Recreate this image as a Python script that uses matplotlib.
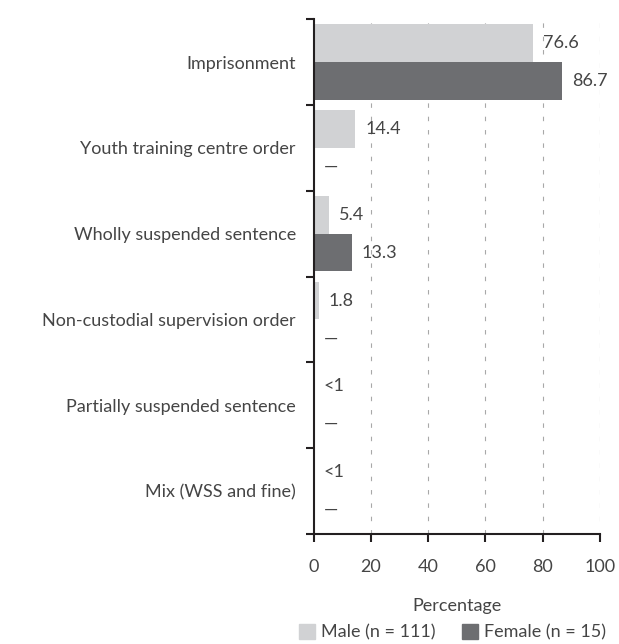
import matplotlib.pyplot as plt
import numpy as np
from matplotlib.patches import Patch

plt.rcParams['font.family'] = ['Lato', 'DejaVu Sans']

categories = ["Imprisonment", "Youth training centre order", "Wholly suspended sentence",
              "Non-custodial supervision order", "Partially suspended sentence", "Mix (WSS and fine)"]
male = [76.6, 14.4, 5.4, 1.8, 0, 0]
female = [86.7, 0, 13.3, 0, 0, 0]
male_labels = ["76.6", "14.4", "5.4", "1.8", "<1", "<1"]
female_labels = ["86.7", "\u2014", "13.3", "\u2014", "\u2014", "\u2014"]

light = "#d1d2d4"
dark = "#6d6e71"
txt = "#454545"
fs = 13

fig = plt.figure(figsize=(6.19, 6.44), dpi=100)
ax = fig.add_axes([0.507, 0.171, 0.462, 0.799])

y = np.arange(len(categories))
h = 0.44
ax.barh(y - h / 2, male, height=h, color=light, zorder=2)
ax.barh(y + h / 2, female, height=h, color=dark, zorder=2)

for i in range(len(categories)):
    ax.text(male[i] + 3.5, y[i] - h / 2, male_labels[i], va="center", ha="left", fontsize=fs, color=txt)
    ax.text(female[i] + 3.5, y[i] + h / 2, female_labels[i], va="center", ha="left", fontsize=fs, color=txt)

ax.set_xlim(0, 100)
ax.set_ylim(len(categories) - 0.5, -0.5)
ax.set_xticks([0, 20, 40, 60, 80, 100])
ax.set_yticks(y)
ax.set_yticklabels(categories)
ax.set_yticks(np.arange(-0.5, len(categories), 1), minor=True)
ax.tick_params(axis="y", which="major", length=0, pad=13, labelsize=fs, labelcolor=txt)
ax.tick_params(axis="y", which="minor", length=6, width=1.5, color="#231f20")
ax.tick_params(axis="x", length=6, width=1.5, color="#231f20", labelsize=fs, labelcolor=txt, pad=12)

for xv in [20, 40, 60, 80, 100]:
    ax.axvline(xv, color="#a8a8a8", lw=0.8, ls=(0, (4, 8)), zorder=1)

for s in ["top", "right"]:
    ax.spines[s].set_visible(False)
for s in ["left", "bottom"]:
    ax.spines[s].set_linewidth(1.5)
    ax.spines[s].set_color("#231f20")

ax.set_xlabel("Percentage", fontsize=fs, color=txt, labelpad=17)

handles = [Patch(color=light, label="Male (n = 111)"), Patch(color=dark, label="Female (n = 15)")]
fig.legend(handles=handles, loc="lower right", bbox_to_anchor=(1.005, -0.02), ncol=2, frameon=False,
           fontsize=fs, labelcolor=txt, handlelength=0.9, handleheight=0.9, handletextpad=0.3,
           columnspacing=1.5)

fig.savefig("out.png", dpi=100)
